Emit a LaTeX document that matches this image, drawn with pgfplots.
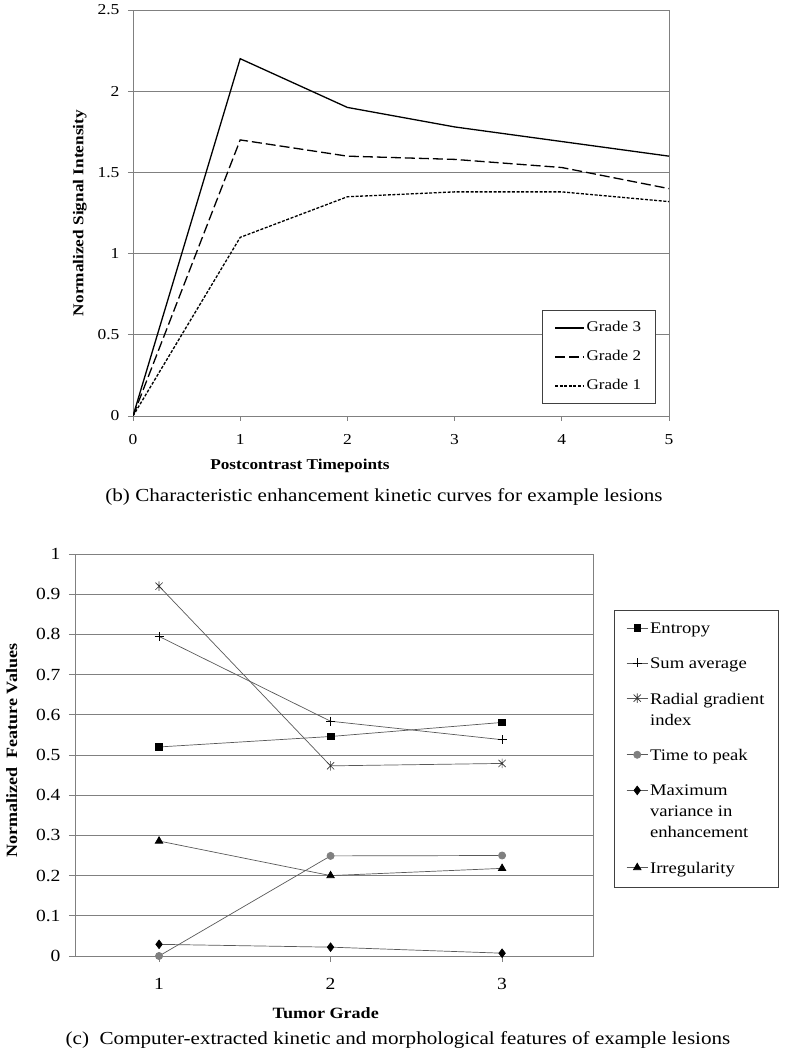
\documentclass[border=0pt]{standalone}
\usepackage{fontspec}
\setmainfont[FakeStretch=1.15]{Liberation Serif}
\usepackage{pgfplots}
\pgfplotsset{compat=1.18}
\definecolor{gridc}{gray}{0.5}
\definecolor{linec}{gray}{0.35}
\definecolor{tpc}{gray}{0.5}
\pgfdeclareplotmark{xstar}{%
  \pgfpathmoveto{\pgfqpoint{0pt}{\pgfplotmarksize}}%
  \pgfpathlineto{\pgfqpoint{0pt}{-\pgfplotmarksize}}%
  \pgfpathmoveto{\pgfqpoint{.75\pgfplotmarksize}{.75\pgfplotmarksize}}%
  \pgfpathlineto{\pgfqpoint{-.75\pgfplotmarksize}{-.75\pgfplotmarksize}}%
  \pgfpathmoveto{\pgfqpoint{-.75\pgfplotmarksize}{.75\pgfplotmarksize}}%
  \pgfpathlineto{\pgfqpoint{.75\pgfplotmarksize}{-.75\pgfplotmarksize}}%
  \pgfusepathqstroke}
\begin{document}
\begin{tikzpicture}
\useasboundingbox (0pt,0pt) rectangle (802pt,1050pt);
% ---------------- top chart ----------------
\begin{axis}[
  at={(133pt,634pt)}, anchor=south west,
  scale only axis, width=536pt, height=406pt,
  xmin=0, xmax=5, ymin=0, ymax=2.5,
  xtick={0,1,2,3,4,5},
  ytick={0,0.5,1,1.5,2,2.5},
  yticklabels={0,0.5,1,1.5,2,2.5},
  tick align=outside, tick pos=left, major tick length=5pt,
  axis line style={gridc, line width=0.8pt},
  every tick/.style={gridc, line width=0.8pt},
  ymajorgrids, grid style={gridc, line width=0.8pt},
  /pgf/number format/assume math mode=true,
  ticklabel style={font=\fontsize{15.2}{18}\selectfont},
  xticklabel style={yshift=-10pt},
  yticklabel style={xshift=-5pt},
  xlabel={Postcontrast Timepoints},
  ylabel={Normalized Signal Intensity},
  label style={font=\bfseries\fontsize{15}{18}\selectfont},
  xlabel style={at={(axis description cs:0.3116,-0.123)}, anchor=center},
  ylabel style={at={(axis description cs:-0.099,0.5)}, anchor=center},
  legend style={at={(axis description cs:0.763,0.261)}, anchor=north west,
    draw=black!75, line width=0.8pt, fill=white,
    font=\fontsize{14.8}{17}\selectfont,
    inner xsep=12pt, inner ysep=11pt, row sep=16pt,
    nodes={inner xsep=2pt, inner ysep=0pt, text height=10pt, text depth=3pt},
    cells={anchor=west}},
  legend image code/.code={\draw[#1] (0pt,0pt) -- (29pt,0pt);},
]
\addplot[black, line width=1.3pt] coordinates {(0,0) (1,2.2) (2,1.9) (3,1.78) (4,1.69) (5,1.6)};
\addlegendentry{Grade 3}
\addplot[black, line width=1.3pt, dash pattern=on 10pt off 4pt] coordinates {(0,0) (1,1.7) (2,1.6) (3,1.58) (4,1.53) (5,1.4)};
\addlegendentry{Grade 2}
\addplot[black, line width=1.3pt, dash pattern=on 3pt off 1.6pt] coordinates {(0,0) (1,1.1) (2,1.35) (3,1.38) (4,1.38) (5,1.32)};
\addlegendentry{Grade 1}
\end{axis}
\node[font=\fontsize{18.35}{21}\selectfont, anchor=center] at (384pt,553pt)
  {(b) Characteristic enhancement kinetic curves for example lesions};
% ---------------- bottom chart ----------------
\begin{axis}[
  at={(75pt,94pt)}, anchor=south west,
  scale only axis, width=518pt, height=402pt,
  xmin=0.51, xmax=3.53, ymin=0, ymax=1,
  xtick={1,2,3},
  ytick={0,0.1,0.2,0.3,0.4,0.5,0.6,0.7,0.8,0.9,1},
  yticklabels={0,0.1,0.2,0.3,0.4,0.5,0.6,0.7,0.8,0.9,1},
  tick align=outside, tick pos=left, major tick length=6pt,
  axis line style={gridc, line width=0.8pt},
  every tick/.style={gridc, line width=0.8pt},
  ymajorgrids, grid style={gridc, line width=0.8pt},
  /pgf/number format/assume math mode=true,
  ticklabel style={font=\fontsize{17}{20}\selectfont},
  xticklabel style={yshift=-13pt},
  yticklabel style={xshift=-5pt},
  xlabel={Tumor Grade},
  ylabel={Normalized\ \ Feature Values},
  label style={font=\bfseries\fontsize{15.7}{18}\selectfont},
  xlabel style={at={(axis description cs:0.484,-0.142)}, anchor=center},
  ylabel style={at={(axis description cs:-0.122,0.511)}, anchor=center},
  legend style={at={(axis description cs:1.0405,0.861)}, anchor=north west,
    draw=black!75, line width=0.8pt, fill=white,
    font=\fontsize{16.2}{21}\selectfont,
    inner xsep=12pt, inner ysep=12pt, row sep=22.5pt,
    nodes={inner xsep=2pt, inner ysep=0pt},
    cells={anchor=north west, align=left}},
  legend image code/.code={\draw[mark repeat=2, mark phase=2, #1] plot coordinates {(0pt,-5.7pt) (10.5pt,-5.7pt) (21pt,-5.7pt)};},
  every axis plot/.append style={linec, line width=0.7pt},
]
\addplot[mark=square*, mark size=3.3pt, mark options={black, fill=black}] coordinates {(1,0.52) (2,0.546) (3,0.581)};
\addlegendentry{Entropy}
\addplot[mark=+, mark size=4.5pt, mark options={black, line width=0.7pt}] coordinates {(1,0.795) (2,0.584) (3,0.538)};
\addlegendentry{Sum average}
\addplot[mark=xstar, mark size=4.8pt, mark options={black!80, line width=0.6pt}] coordinates {(1,0.92) (2,0.473) (3,0.479)};
\addlegendentry{Radial gradient\\index}
\addplot[mark=*, mark size=3.6pt, mark options={tpc, fill=tpc}] coordinates {(1,0) (2,0.249) (3,0.25)};
\addlegendentry{Time to peak}
\addplot[mark=diamond*, mark size=4.3pt, mark options={black, fill=black}] coordinates {(1,0.029) (2,0.022) (3,0.007)};
\addlegendentry{Maximum\\variance in\\enhancement}
\addplot[mark=triangle*, mark size=4.3pt, mark options={black, fill=black}] coordinates {(1,0.286) (2,0.2) (3,0.218)};
\addlegendentry{Irregularity}
\end{axis}
\node[font=\fontsize{18.35}{21}\selectfont, anchor=center] at (398pt,10pt)
  {(c)\ \ Computer-extracted kinetic and morphological features of example lesions};
\end{tikzpicture}
\end{document}
